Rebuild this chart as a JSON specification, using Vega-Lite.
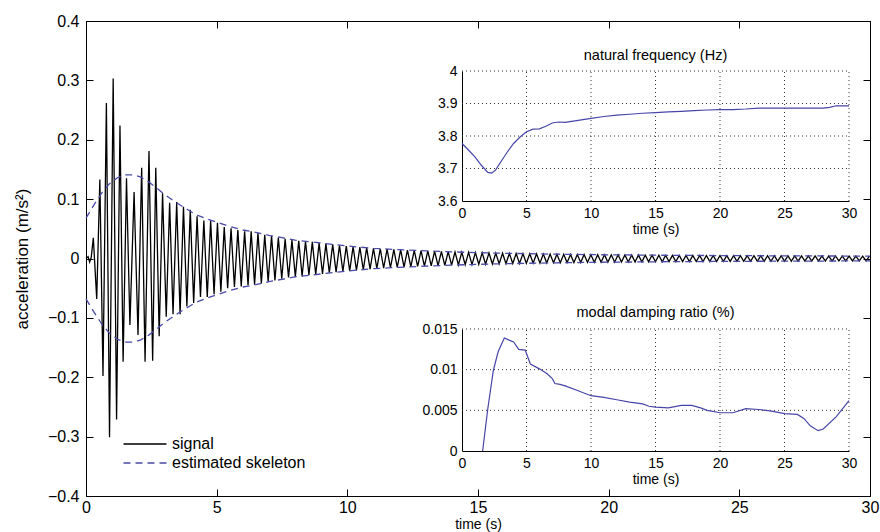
{
"$schema":"https://vega.github.io/schema/vega-lite/v6.json",
"width":784,"height":475,
"autosize":{"type":"none"},
"padding":{"left":86,"top":21,"right":10,"bottom":36},
"background":"white",
"config":{"font":"Liberation Sans","view":{"stroke":"black","strokeWidth":1},
 "axis":{"domainColor":"black","tickColor":"black","labelColor":"black","titleColor":"black","titleFontWeight":"normal","grid":false,"labelFlush":false,"labelOverlap":false}},
"datasets":{
"signal":[{"t":0,"a":0},{"t":0.08,"a":0.003},{"t":0.14,"a":-0.006},{"t":0.2,"a":0.002},{"t":0.28,"a":0.035},{"t":0.41,"a":-0.068},{"t":0.53,"a":0.133},{"t":0.65,"a":-0.198},{"t":0.78,"a":0.262},{"t":0.9,"a":-0.301},{"t":1.04,"a":0.303},{"t":1.17,"a":-0.271},{"t":1.3,"a":0.224},{"t":1.42,"a":-0.174},{"t":1.55,"a":0.135},{"t":1.68,"a":-0.112},{"t":1.84,"a":0.112},{"t":1.99,"a":-0.129},{"t":2.13,"a":0.153},{"t":2.26,"a":-0.174},{"t":2.41,"a":0.181},{"t":2.55,"a":-0.172},{"t":2.67,"a":0.153},{"t":2.8,"a":-0.131},{"t":2.93,"a":0.11},{"t":3.07,"a":-0.098},{"t":3.2,"a":0.094},{"t":3.33,"a":-0.094},{"t":3.47,"a":0.095},{"t":3.6,"a":-0.094},{"t":3.73,"a":0.087},{"t":3.86,"a":-0.081},{"t":3.99,"a":0.082},{"t":4.12,"a":-0.075},{"t":4.25,"a":0.071},{"t":4.38,"a":-0.065},{"t":4.51,"a":0.064},{"t":4.64,"a":-0.065},{"t":4.77,"a":0.064},{"t":4.9,"a":-0.06},{"t":5.03,"a":0.06},{"t":5.16,"a":-0.056},{"t":5.29,"a":0.053},{"t":5.42,"a":-0.05},{"t":5.55,"a":0.051},{"t":5.68,"a":-0.048},{"t":5.81,"a":0.048},{"t":5.94,"a":-0.047},{"t":6.07,"a":0.046},{"t":6.2,"a":-0.045},
{"t":6.32,"a":0.046},{"t":6.45,"a":-0.044},{"t":6.58,"a":0.043},{"t":6.71,"a":-0.042},{"t":6.84,"a":0.04},{"t":6.97,"a":-0.039},{"t":7.1,"a":0.038},{"t":7.23,"a":-0.037},{"t":7.36,"a":0.035},{"t":7.49,"a":-0.034},{"t":7.62,"a":0.033},{"t":7.75,"a":-0.032},{"t":7.88,"a":0.031},{"t":8.01,"a":-0.031},{"t":8.14,"a":0.03},{"t":8.27,"a":-0.03},{"t":8.4,"a":0.029},{"t":8.53,"a":-0.028},{"t":8.66,"a":0.028},{"t":8.79,"a":-0.027},{"t":8.92,"a":0.026},{"t":9.05,"a":-0.026},{"t":9.18,"a":0.025},{"t":9.31,"a":-0.024},{"t":9.44,"a":0.024},{"t":9.57,"a":-0.023},{"t":9.7,"a":0.022},{"t":9.83,"a":-0.022},{"t":9.96,"a":0.021},{"t":10.09,"a":-0.021},{"t":10.22,"a":0.02},{"t":10.35,"a":-0.02},{"t":10.48,"a":0.019},{"t":10.61,"a":-0.019},{"t":10.74,"a":0.018},{"t":10.87,"a":-0.018},{"t":11.0,"a":0.017},{"t":11.13,"a":-0.0167},{"t":11.26,"a":0.0164},{"t":11.39,"a":-0.0161},{"t":11.52,"a":0.0158},{"t":11.65,"a":-0.0155},{"t":11.78,"a":0.0152},{"t":11.91,"a":-0.015},{"t":12.04,"a":0.0147},{"t":12.17,"a":-0.0145},{"t":12.3,"a":0.0142},{"t":12.43,"a":-0.0139},{"t":12.56,"a":0.0137},{"t":12.69,"a":-0.0134},{"t":12.82,"a":0.0132},{"t":12.95,"a":-0.0129},{"t":13.08,"a":0.0127},{"t":13.21,"a":-0.0125},{"t":13.34,"a":0.0123},{"t":13.47,"a":-0.012},{"t":13.6,"a":0.0118},{"t":13.73,"a":-0.0116},{"t":13.86,"a":0.0114},{"t":13.99,"a":-0.0112},{"t":14.12,"a":0.011},{"t":14.25,"a":-0.0108},{"t":14.38,"a":0.0107},{"t":14.51,"a":-0.0105},{"t":14.64,"a":0.0103},{"t":14.77,"a":-0.0101},{"t":14.9,"a":0.0099},{"t":15.03,"a":-0.0098},{"t":15.16,"a":0.0096},{"t":15.29,"a":-0.0095},{"t":15.42,"a":0.0094},{"t":15.55,"a":-0.0092},{"t":15.68,"a":0.0091},{"t":15.81,"a":-0.009},{"t":15.94,"a":0.0089},{"t":16.07,"a":-0.0087},{"t":16.2,"a":0.0086},{"t":16.33,"a":-0.0085},{"t":16.46,"a":0.0084},{"t":16.59,"a":-0.0083},{"t":16.72,"a":0.0082},{"t":16.85,"a":-0.0081},{"t":16.98,"a":0.008},{"t":17.11,"a":-0.0079},{"t":17.24,"a":0.0078},{"t":17.37,"a":-0.0077},{"t":17.5,"a":0.0076},{"t":17.63,"a":-0.0075},{"t":17.76,"a":0.0074},{"t":17.89,"a":-0.0073},{"t":18.02,"a":0.0072},{"t":18.15,"a":-0.0071},{"t":18.28,"a":0.0071},{"t":18.41,"a":-0.007},{"t":18.54,"a":0.0069},{"t":18.67,"a":-0.0069},{"t":18.8,"a":0.0068},{"t":18.93,"a":-0.0067},{"t":19.06,"a":0.0067},{"t":19.19,"a":-0.0066},{"t":19.32,"a":0.0065},{"t":19.45,"a":-0.0065},{"t":19.58,"a":0.0064},{"t":19.71,"a":-0.0063},{"t":19.84,"a":0.0063},{"t":19.97,"a":-0.0062},{"t":20.1,"a":0.0062},{"t":20.23,"a":-0.0061},{"t":20.36,"a":0.0061},{"t":20.49,"a":-0.006},{"t":20.62,"a":0.006},{"t":20.75,"a":-0.0059},{"t":20.88,"a":0.0059},{"t":21.01,"a":-0.0058},{"t":21.14,"a":0.0058},{"t":21.27,"a":-0.0057},{"t":21.4,"a":0.0057},{"t":21.53,"a":-0.0056},{"t":21.66,"a":0.0056},{"t":21.79,"a":-0.0055},{"t":21.92,"a":0.0055},{"t":22.05,"a":-0.0055},{"t":22.18,"a":0.0054},{"t":22.31,"a":-0.0054},{"t":22.44,"a":0.0054},{"t":22.57,"a":-0.0053},{"t":22.7,"a":0.0053},{"t":22.83,"a":-0.0053},{"t":22.96,"a":0.0052},{"t":23.09,"a":-0.0052},{"t":23.22,"a":0.0052},{"t":23.35,"a":-0.0051},{"t":23.48,"a":0.0051},{"t":23.61,"a":-0.0051},{"t":23.74,"a":0.0051},{"t":23.87,"a":-0.005},{"t":24.0,"a":0.005},{"t":24.13,"a":-0.005},{"t":24.26,"a":0.0049},{"t":24.39,"a":-0.0049},{"t":24.52,"a":0.0049},{"t":24.65,"a":-0.0049},{"t":24.78,"a":0.0048},{"t":24.91,"a":-0.0048},{"t":25.04,"a":0.0048},{"t":25.17,"a":-0.0048},{"t":25.3,"a":0.0047},{"t":25.43,"a":-0.0047},{"t":25.56,"a":0.0047},{"t":25.69,"a":-0.0047},{"t":25.82,"a":0.0046},{"t":25.95,"a":-0.0046},{"t":26.08,"a":0.0046},{"t":26.21,"a":-0.0046},{"t":26.34,"a":0.0046},{"t":26.47,"a":-0.0045},{"t":26.6,"a":0.0045},{"t":26.73,"a":-0.0045},{"t":26.86,"a":0.0045},{"t":26.99,"a":-0.0045},{"t":27.12,"a":0.0044},{"t":27.25,"a":-0.0044},{"t":27.38,"a":0.0044},{"t":27.51,"a":-0.0044},{"t":27.64,"a":0.0044},{"t":27.77,"a":-0.0043},{"t":27.9,"a":0.0043},{"t":28.03,"a":-0.0043},{"t":28.16,"a":0.0043},{"t":28.29,"a":-0.0042},{"t":28.42,"a":0.0042},{"t":28.55,"a":-0.0042},{"t":28.68,"a":0.0042},{"t":28.81,"a":-0.0041},{"t":28.94,"a":0.0041},{"t":29.07,"a":-0.0041},{"t":29.2,"a":0.0041},{"t":29.33,"a":-0.004},{"t":29.46,"a":0.004},{"t":29.59,"a":-0.004},{"t":29.72,"a":0.004},{"t":29.85,"a":-0.004},{"t":29.98,"a":0.004}],
"envelope":[{"t":0,"e":0.068,"side":"u"},{"t":0.3,"e":0.09,"side":"u"},{"t":0.6,"e":0.11,"side":"u"},{"t":0.9,"e":0.126,"side":"u"},{"t":1.2,"e":0.136,"side":"u"},{"t":1.5,"e":0.141,"side":"u"},{"t":1.8,"e":0.141,"side":"u"},{"t":2.1,"e":0.137,"side":"u"},{"t":2.4,"e":0.129,"side":"u"},{"t":2.7,"e":0.119,"side":"u"},{"t":3.0,"e":0.108,"side":"u"},{"t":3.3,"e":0.099,"side":"u"},{"t":3.6,"e":0.09,"side":"u"},{"t":3.9,"e":0.082,"side":"u"},{"t":4.2,"e":0.074,"side":"u"},{"t":4.6,"e":0.067,"side":"u"},{"t":5.0,"e":0.061,"side":"u"},{"t":5.5,"e":0.054,"side":"u"},{"t":6.0,"e":0.048,"side":"u"},{"t":6.5,"e":0.044,"side":"u"},{"t":7,"e":0.039,"side":"u"},{"t":7.5,"e":0.035,"side":"u"},{"t":8,"e":0.031,"side":"u"},{"t":9,"e":0.026,"side":"u"},{"t":10,"e":0.021,"side":"u"},{"t":11,"e":0.0172,"side":"u"},{"t":12,"e":0.0148,"side":"u"},{"t":13,"e":0.0128,"side":"u"},{"t":14,"e":0.0112,"side":"u"},{"t":15,"e":0.0098,"side":"u"},{"t":16,"e":0.0088,"side":"u"},{"t":17,"e":0.008,"side":"u"},{"t":18,"e":0.0072,"side":"u"},{"t":20,"e":0.0062,"side":"u"},{"t":22,"e":0.0055,"side":"u"},{"t":24,"e":0.005,"side":"u"},{"t":26,"e":0.0046,"side":"u"},{"t":28,"e":0.0043,"side":"u"},{"t":30,"e":0.004,"side":"u"},
{"t":0,"e":-0.068,"side":"l"},{"t":0.3,"e":-0.09,"side":"l"},{"t":0.6,"e":-0.11,"side":"l"},{"t":0.9,"e":-0.126,"side":"l"},{"t":1.2,"e":-0.136,"side":"l"},{"t":1.5,"e":-0.141,"side":"l"},{"t":1.8,"e":-0.141,"side":"l"},{"t":2.1,"e":-0.137,"side":"l"},{"t":2.4,"e":-0.129,"side":"l"},{"t":2.7,"e":-0.119,"side":"l"},{"t":3.0,"e":-0.108,"side":"l"},{"t":3.3,"e":-0.099,"side":"l"},{"t":3.6,"e":-0.09,"side":"l"},{"t":3.9,"e":-0.082,"side":"l"},{"t":4.2,"e":-0.074,"side":"l"},{"t":4.6,"e":-0.067,"side":"l"},{"t":5.0,"e":-0.061,"side":"l"},{"t":5.5,"e":-0.054,"side":"l"},{"t":6.0,"e":-0.048,"side":"l"},{"t":6.5,"e":-0.044,"side":"l"},{"t":7,"e":-0.039,"side":"l"},{"t":7.5,"e":-0.035,"side":"l"},{"t":8,"e":-0.031,"side":"l"},{"t":9,"e":-0.026,"side":"l"},{"t":10,"e":-0.021,"side":"l"},{"t":11,"e":-0.0172,"side":"l"},{"t":12,"e":-0.0148,"side":"l"},{"t":13,"e":-0.0128,"side":"l"},{"t":14,"e":-0.0112,"side":"l"},{"t":15,"e":-0.0098,"side":"l"},{"t":16,"e":-0.0088,"side":"l"},{"t":17,"e":-0.008,"side":"l"},{"t":18,"e":-0.0072,"side":"l"},{"t":20,"e":-0.0062,"side":"l"},{"t":22,"e":-0.0055,"side":"l"},{"t":24,"e":-0.005,"side":"l"},{"t":26,"e":-0.0046,"side":"l"},{"t":28,"e":-0.0043,"side":"l"},{"t":30,"e":-0.004,"side":"l"}],
"freq":[{"t":0,"f":3.777},{"t":0.5,"f":3.757},{"t":1,"f":3.736},{"t":1.5,"f":3.71},{"t":2,"f":3.688},{"t":2.3,"f":3.686},{"t":2.6,"f":3.695},{"t":3,"f":3.72},{"t":3.5,"f":3.75},{"t":4,"f":3.777},{"t":4.5,"f":3.797},{"t":5,"f":3.813},{"t":5.5,"f":3.821},{"t":6,"f":3.822},{"t":6.5,"f":3.83},{"t":7,"f":3.84},{"t":7.5,"f":3.843},{"t":8,"f":3.842},{"t":9,"f":3.848},{"t":10,"f":3.854},{"t":11,"f":3.86},{"t":12,"f":3.864},{"t":13,"f":3.867},{"t":14,"f":3.87},{"t":15,"f":3.872},{"t":16,"f":3.874},{"t":17,"f":3.876},{"t":18,"f":3.878},{"t":19,"f":3.88},{"t":20,"f":3.881},{"t":21,"f":3.881},{"t":22,"f":3.883},{"t":23,"f":3.886},{"t":24,"f":3.886},{"t":25,"f":3.886},{"t":26,"f":3.886},{"t":27,"f":3.886},{"t":28,"f":3.886},{"t":28.5,"f":3.888},{"t":29,"f":3.893},{"t":30,"f":3.893}],
"damp":[{"t":1.6,"d":0},{"t":2,"d":0.0052},{"t":2.43,"d":0.0099},{"t":2.8,"d":0.0122},{"t":3.28,"d":0.0139},{"t":3.7,"d":0.0136},{"t":4,"d":0.0134},{"t":4.4,"d":0.0125},{"t":4.9,"d":0.0124},{"t":5.3,"d":0.0107},{"t":6,"d":0.0101},{"t":6.6,"d":0.0095},{"t":7,"d":0.0089},{"t":7.2,"d":0.0083},{"t":7.6,"d":0.0082},{"t":8,"d":0.008},{"t":9,"d":0.0074},{"t":10,"d":0.0068},{"t":11,"d":0.0066},{"t":12,"d":0.0063},{"t":13,"d":0.006},{"t":14,"d":0.0058},{"t":14.5,"d":0.0055},{"t":15,"d":0.0054},{"t":16,"d":0.0053},{"t":17,"d":0.0056},{"t":17.8,"d":0.0056},{"t":18.5,"d":0.0053},{"t":19,"d":0.005},{"t":20,"d":0.0047},{"t":21,"d":0.0047},{"t":22,"d":0.0052},{"t":23,"d":0.0051},{"t":24,"d":0.0049},{"t":25,"d":0.0046},{"t":26,"d":0.0045},{"t":26.5,"d":0.004},{"t":27,"d":0.0031},{"t":27.6,"d":0.0025},{"t":28,"d":0.0027},{"t":29,"d":0.0042},{"t":30,"d":0.0062}],
"tgrid":[{"g":5},{"g":10},{"g":15},{"g":20},{"g":25},{"g":30}],
"fgrid":[{"g":3.7},{"g":3.8},{"g":3.9},{"g":4}],
"dgrid":[{"g":0.005},{"g":0.01},{"g":0.015}]
},
"layer":[
 {"layer":[
  {"data":{"name":"signal"},"mark":{"type":"line","strokeWidth":1.3},
   "encoding":{
    "x":{"field":"t","type":"quantitative","scale":{"domain":[0,30],"nice":false},"axis":{"orient":"bottom","values":[0,5,10,15,20,25,30],"tickSize":-7,"labelPadding":10,"labelFontSize":16,"title":"time (s)","titleFontSize":14,"titlePadding":2,"domain":false}},
    "y":{"field":"a","type":"quantitative","scale":{"domain":[-0.4,0.4],"nice":false,"zero":false},"axis":{"orient":"left","values":[-0.4,-0.3,-0.2,-0.1,0,0.1,0.2,0.3,0.4],"format":".3~g","tickSize":-7,"labelPadding":14,"labelFontSize":16,"title":"acceleration (m/s²)","titleFontSize":17,"titlePadding":16,"domain":false}},
    "color":{"datum":"signal","type":"nominal","scale":{"domain":["signal","estimated skeleton"],"range":["#000000","#4a4aa8"]},
      "legend":{"orient":"none","legendX":51,"legendY":415,"title":null,"labelFontSize":16,"symbolType":"M-4.3,0H4.3","symbolSize":100,"symbolStrokeWidth":1.5,"labelOffset":19,"rowPadding":3,"labelColor":"black"}},
    "strokeDash":{"datum":"signal","type":"nominal","scale":{"domain":["signal","estimated skeleton"],"range":[[1,0],[7,5]]}}
   }},
  {"data":{"name":"envelope"},"mark":{"type":"line","strokeWidth":1.3},
   "encoding":{
    "x":{"field":"t","type":"quantitative","axis":null},
    "y":{"field":"e","type":"quantitative","axis":null},
    "detail":{"field":"side"},
    "color":{"datum":"estimated skeleton","type":"nominal"},
    "strokeDash":{"datum":"estimated skeleton","type":"nominal"}
   }},
  {"data":{"values":[{"t":0,"a":0}]},"mark":{"type":"point","opacity":0},
   "encoding":{
    "x":{"field":"t","type":"quantitative","axis":{"orient":"top","values":[0,5,10,15,20,25,30],"tickSize":-7,"labels":false,"domain":false,"title":null}},
    "y":{"field":"a","type":"quantitative","axis":{"orient":"right","values":[-0.4,-0.3,-0.2,-0.1,0,0.1,0.2,0.3,0.4],"tickSize":-7,"labels":false,"domain":false,"title":null}}
   }}
 ],
 "resolve":{"axis":{"x":"independent","y":"independent"}}},
 {"layer":[
  {"data":{"name":"tgrid"},"mark":{"type":"rule","strokeDash":[1,3],"color":"#333333","strokeWidth":1},
   "encoding":{
    "x":{"field":"g","type":"quantitative","scale":{"domain":[0,30],"range":[376,763],"nice":false},"axis":null},
    "y":{"datum":3.6,"type":"quantitative","scale":{"domain":[3.6,4],"range":[180,50],"nice":false,"zero":false},"axis":null},
    "y2":{"datum":4}}},
  {"data":{"name":"fgrid"},"mark":{"type":"rule","strokeDash":[1,3],"color":"#333333","strokeWidth":1},
   "encoding":{
    "y":{"field":"g","type":"quantitative","scale":{"domain":[3.6,4],"range":[180,50],"nice":false,"zero":false},"axis":null},
    "x":{"datum":0,"type":"quantitative","scale":{"domain":[0,30],"range":[376,763],"nice":false},"axis":null},
    "x2":{"datum":30}}},
  {"data":{"name":"freq"},"mark":{"type":"line","color":"#4646a8","strokeWidth":1.2},
   "encoding":{
    "x":{"field":"t","type":"quantitative","scale":{"domain":[0,30],"range":[376,763],"nice":false},"axis":{"orient":"bottom","offset":-295,"values":[0,5,10,15,20,25,30],"ticks":false,"labelFontSize":14,"labelPadding":5,"title":"time (s)","titleFontSize":14,"titlePadding":2}},
    "y":{"field":"f","type":"quantitative","scale":{"domain":[3.6,4],"range":[180,50],"nice":false,"zero":false},"axis":{"orient":"left","offset":-376,"values":[3.6,3.7,3.8,3.9,4],"format":".3~g","ticks":false,"labelFontSize":14,"labelPadding":5,"title":null}}}},
  {"data":{"values":[{"t":15,"f":4}]},"mark":{"type":"text","text":"natural frequency (Hz)","fontSize":14.5,"dy":-15,"baseline":"middle","color":"black"},
   "encoding":{
    "x":{"field":"t","type":"quantitative","scale":{"domain":[0,30],"range":[376,763],"nice":false},"axis":null},
    "y":{"field":"f","type":"quantitative","scale":{"domain":[3.6,4],"range":[180,50],"nice":false,"zero":false},"axis":null}}}
 ],
 "resolve":{"axis":{"x":"independent","y":"independent"}}},
 {"layer":[
  {"data":{"name":"tgrid"},"mark":{"type":"rule","strokeDash":[1,3],"color":"#333333","strokeWidth":1},
   "encoding":{
    "x":{"field":"g","type":"quantitative","scale":{"domain":[0,30],"range":[376,763],"nice":false},"axis":null},
    "y":{"datum":0,"type":"quantitative","scale":{"domain":[0,0.015],"range":[430,308],"nice":false},"axis":null},
    "y2":{"datum":0.015}}},
  {"data":{"name":"dgrid"},"mark":{"type":"rule","strokeDash":[1,3],"color":"#333333","strokeWidth":1},
   "encoding":{
    "y":{"field":"g","type":"quantitative","scale":{"domain":[0,0.015],"range":[430,308],"nice":false},"axis":null},
    "x":{"datum":0,"type":"quantitative","scale":{"domain":[0,30],"range":[376,763],"nice":false},"axis":null},
    "x2":{"datum":30}}},
  {"data":{"name":"damp"},"mark":{"type":"line","color":"#4646a8","strokeWidth":1.2},
   "encoding":{
    "x":{"field":"t","type":"quantitative","scale":{"domain":[0,30],"range":[376,763],"nice":false},"axis":{"orient":"bottom","offset":-45,"values":[0,5,10,15,20,25,30],"ticks":false,"labelFontSize":14,"labelPadding":5,"title":"time (s)","titleFontSize":14,"titlePadding":2}},
    "y":{"field":"d","type":"quantitative","scale":{"domain":[0,0.015],"range":[430,308],"nice":false},"axis":{"orient":"left","offset":-376,"values":[0,0.005,0.01,0.015],"format":".3~g","ticks":false,"labelFontSize":14,"labelPadding":5,"title":null}}}},
  {"data":{"values":[{"t":15,"d":0.015}]},"mark":{"type":"text","text":"modal damping ratio (%)","fontSize":14.5,"dy":-16,"baseline":"middle","color":"black"},
   "encoding":{
    "x":{"field":"t","type":"quantitative","scale":{"domain":[0,30],"range":[376,763],"nice":false},"axis":null},
    "y":{"field":"d","type":"quantitative","scale":{"domain":[0,0.015],"range":[430,308],"nice":false},"axis":null}}}
 ],
 "resolve":{"axis":{"x":"independent","y":"independent"}}}
],
"resolve":{"scale":{"x":"independent","y":"independent"},"axis":{"x":"independent","y":"independent"}}
}
